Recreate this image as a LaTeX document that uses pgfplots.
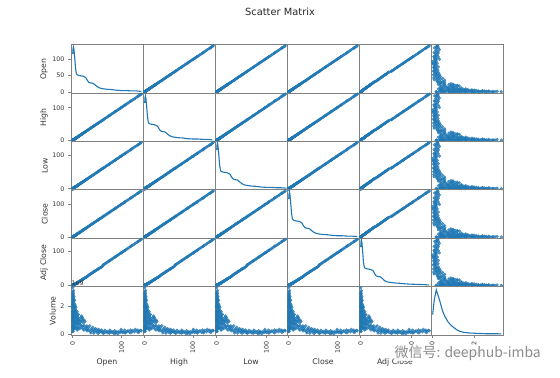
\documentclass[border=0pt]{standalone}
\usepackage{pgfplots}
\pgfplotsset{compat=1.18}
\usepackage{pgfplotstable}
\usepgfplotslibrary{groupplots}
\usepackage{fontspec}
\setmainfont{DejaVu Sans}
\newfontfamily\cjk{Noto Sans CJK SC}
\definecolor{tabblue}{HTML}{1F77B4}
\definecolor{spine}{HTML}{808080}

\pgfplotstableread{
O H L C A V
0.20 0.21 0.19 0.20 0.16 0.9
0.25 0.26 0.24 0.25 0.20 1.6
0.30 0.31 0.29 0.30 0.24 2.1
0.30 0.31 0.29 0.30 0.24 0.5
0.35 0.36 0.34 0.35 0.28 1.2
0.40 0.41 0.39 0.40 0.32 2.6
0.40 0.41 0.39 0.40 0.32 0.3
0.45 0.46 0.44 0.45 0.36 1.8
0.50 0.52 0.48 0.50 0.40 3.3
0.50 0.51 0.49 0.50 0.40 1.0
0.55 0.56 0.54 0.55 0.44 2.3
0.60 0.61 0.59 0.60 0.48 0.6
0.65 0.66 0.64 0.65 0.52 1.5
0.70 0.72 0.68 0.70 0.56 2.8
0.75 0.76 0.74 0.75 0.60 0.4
0.80 0.82 0.78 0.80 0.64 1.9
0.85 0.86 0.84 0.85 0.68 1.1
0.90 0.92 0.88 0.90 0.72 2.4
1.00 1.02 0.98 1.00 0.80 0.8
1.00 1.03 0.97 1.00 0.80 3.0
1.10 1.12 1.08 1.10 0.88 1.4
1.20 1.22 1.18 1.20 0.96 2.0
1.30 1.32 1.28 1.30 1.04 0.5
1.40 1.43 1.37 1.40 1.12 2.6
1.50 1.53 1.47 1.50 1.20 1.7
1.60 1.63 1.57 1.60 1.28 0.9
1.70 1.73 1.67 1.70 1.36 2.2
1.80 1.83 1.77 1.80 1.44 1.3
1.90 1.94 1.86 1.90 1.52 3.1
2.00 2.04 1.96 2.00 1.60 0.7
2.20 2.24 2.16 2.20 1.76 1.9
2.40 2.45 2.35 2.40 1.92 2.5
2.60 2.65 2.55 2.60 2.08 1.0
2.80 2.85 2.75 2.80 2.24 1.6
3.00 3.06 2.94 3.00 2.40 2.2
3.20 3.26 3.14 3.20 2.56 0.6
3.40 3.47 3.33 3.40 2.72 1.4
3.60 3.67 3.53 3.60 2.88 1.9
3.80 3.88 3.72 3.80 3.04 1.1
4.00 4.08 3.92 4.00 3.20 2.4
4.20 4.28 4.12 4.20 3.36 0.8
4.40 4.49 4.31 4.40 3.52 1.5
4.60 4.69 4.51 4.60 3.68 1.2
4.80 4.90 4.70 4.80 3.84 1.8
5.00 5.10 4.90 5.00 4.00 0.9
0.22 0.23 0.21 0.22 0.18 2.9
0.28 0.29 0.27 0.28 0.22 0.2
0.33 0.34 0.32 0.33 0.26 1.4
0.38 0.39 0.37 0.38 0.30 2.0
0.42 0.43 0.41 0.42 0.34 0.8
0.48 0.49 0.47 0.48 0.38 2.7
0.52 0.53 0.51 0.52 0.42 1.3
0.58 0.59 0.57 0.58 0.46 1.9
0.62 0.63 0.61 0.62 0.50 0.2
0.68 0.69 0.67 0.68 0.54 2.2
0.72 0.73 0.71 0.72 0.58 1.1
0.78 0.80 0.76 0.78 0.62 2.5
0.82 0.84 0.80 0.82 0.66 0.6
0.88 0.90 0.86 0.88 0.70 1.6
0.95 0.97 0.93 0.95 0.76 2.0
1.05 1.07 1.03 1.05 0.84 1.2
1.15 1.17 1.13 1.15 0.92 2.3
1.25 1.28 1.22 1.25 1.00 1.6
1.35 1.38 1.32 1.35 1.08 1.0
1.45 1.48 1.42 1.45 1.16 2.9
1.65 1.68 1.62 1.65 1.32 1.9
1.85 1.89 1.81 1.85 1.48 0.4
2.10 2.14 2.06 2.10 1.68 2.4
2.50 2.55 2.45 2.50 2.00 1.3
2.90 2.96 2.84 2.90 2.32 2.7
3.30 3.37 3.23 3.30 2.64 1.7
3.70 3.77 3.63 3.70 2.96 0.4
4.10 4.18 4.02 4.10 3.28 1.6
4.50 4.59 4.41 4.50 3.60 2.1
4.90 5.00 4.80 4.90 3.92 0.5
5.2 5.3 5.1 5.2 4.4 1.6
5.5 5.6 5.4 5.5 4.7 2.0
5.8 5.9 5.7 5.8 4.9 0.8
6.0 6.1 5.9 6.0 5.1 1.3
6.3 6.4 6.2 6.3 5.4 1.9
6.5 6.6 6.4 6.5 5.5 0.7
6.8 6.9 6.7 6.8 5.8 0.4
7.0 7.1 6.9 7.0 6.0 1.7
7.3 7.4 7.2 7.3 6.2 1.2
7.5 7.6 7.4 7.5 6.4 1.0
7.8 8.0 7.6 7.8 6.6 1.5
8.0 8.1 7.9 8.0 6.8 0.5
8.3 8.5 8.1 8.3 7.1 0.8
8.5 8.6 8.4 8.5 7.2 1.4
8.8 9.0 8.6 8.8 7.5 1.1
9.0 9.1 8.9 9.0 7.7 0.9
9.3 9.5 9.1 9.3 7.9 0.3
9.5 9.6 9.4 9.5 8.1 1.6
9.8 10.0 9.6 9.8 8.3 1.3
10.0 10.2 9.8 10.0 8.5 0.6
10.5 10.7 10.3 10.5 8.9 1.2
10.8 11.0 10.6 10.8 9.2 0.8
11.0 11.2 10.8 11.0 9.4 0.4
11.5 11.7 11.3 11.5 9.8 1.0
12.0 12.2 11.8 12.0 10.2 1.4
12.3 12.5 12.1 12.3 10.5 1.0
12.5 12.7 12.3 12.5 10.6 0.7
13.0 13.2 12.8 13.0 11.1 0.5
13.5 13.7 13.3 13.5 11.5 1.1
14.0 14.2 13.8 14.0 11.9 0.8
14.5 14.7 14.3 14.5 12.3 0.4
15.0 15.2 14.8 15.0 12.8 1.0
16 16.3 15.7 16 14.1 0.7
16.5 16.8 16.2 16.5 14.5 0.9
17 17.3 16.7 17 15.0 1.2
17.5 17.8 17.2 17.5 15.4 0.6
18 18.3 17.7 18 15.8 1.3
18.5 18.8 18.2 18.5 16.3 0.5
19 19.3 18.7 19 16.7 0.9
19.5 19.9 19.1 19.5 17.2 1.1
20 20.3 19.7 20 17.6 1.2
20.5 20.8 20.2 20.5 18.0 0.4
21 21.3 20.7 21 18.5 1.0
21.5 21.9 21.1 21.5 18.9 0.6
22 22.4 21.6 22 19.4 0.8
23 23.4 22.6 23 20.2 0.3
23.5 24.0 23.0 23.5 20.7 1.0
24 24.4 23.6 24 21.1 0.6
25 25.4 24.6 25 22.0 0.9
26 26.4 25.6 26 22.9 0.4
27 27.4 26.6 27 23.8 0.5
28 28.5 27.5 28 24.6 0.3
29 29.5 28.5 29 25.5 0.6
30 30.5 29.5 30 26.4 0.4
31 31.5 30.5 31 27.3 0.25
32 32.5 31.5 32 29.4 0.5
33.5 34.0 33.0 33.5 30.8 0.3
35 35.5 34.5 35 32.2 0.6
36.5 37.0 36.0 36.5 33.6 0.2
37 37.7 36.3 37 34.0 0.1
38 38.6 37.4 38 35.0 0.4
39.5 40.1 38.9 39.5 36.3 0.3
41 41.6 40.4 41 37.7 0.5
42.5 43.1 41.9 42.5 39.1 0.2
43 43.9 42.1 43 39.6 0.08
44 44.7 43.3 44 40.5 0.35
45.5 46.2 44.8 45.5 41.9 0.25
47 47.7 46.3 47 43.2 0.4
48.5 49.2 47.8 48.5 44.6 0.15
50 50.8 49.2 50 46.0 0.3
51.5 52.3 50.7 51.5 47.4 0.2
52 53.0 51.0 52 47.8 0.07
53 53.8 52.2 53 48.8 0.35
54.5 55.3 53.7 54.5 50.1 0.15
56 56.8 55.2 56 51.5 0.25
57.5 58.4 56.6 57.5 52.9 0.18
59 59.9 58.1 59 54.3 0.3
60.5 61.4 59.6 60.5 55.7 0.12
62 62.9 61.1 62 59.5 0.2
63 64.3 61.7 63 60.5 0.06
64 65.0 63.0 64 61.4 0.12
66 67.0 65.0 66 63.4 0.28
68 69.0 67.0 68 65.3 0.15
70 71.1 68.9 70 67.2 0.22
72 73.1 70.9 72 69.1 0.1
74 75.1 72.9 74 71.0 0.18
75 76.5 73.5 75 72.0 0.08
76 77.1 74.9 76 73.0 0.3
78 79.2 76.8 78 74.9 0.12
80 81.2 78.8 80 76.8 0.2
82 83.2 80.8 82 78.7 0.15
84 85.3 82.7 84 80.6 0.05
86 87.3 84.7 86 82.6 0.25
87 88.7 85.3 87 83.5 0.07
88 89.3 86.7 88 84.5 0.14
90 91.4 88.6 90 86.4 0.18
92 93.4 90.6 92 88.3 0.03
94 95.4 92.6 94 90.2 0.2
96 97.4 94.6 96 92.2 0.12
98 99.5 96.5 98 94.1 0.16
99 101.0 97.0 99 95.0 0.35
100 101.5 98.5 100 96.0 0.22
102 103.5 100.5 102 97.9 0.12
104 105.6 102.4 104 99.8 0.18
106 107.6 104.4 106 101.8 0.3
107 109.1 104.9 107 102.7 0.09
108 109.6 106.4 108 103.7 0.14
111 112.7 109.3 111 106.6 0.2
113 114.7 111.3 113 108.5 0.25
116 117.7 114.3 116 111.4 0.15
118 119.8 116.2 118 113.3 0.3
119 121.4 116.6 119 114.2 0.1
121 122.8 119.2 121 116.2 0.2
123 124.8 121.2 123 118.1 0.28
126 127.9 124.1 126 121.0 0.18
128 129.9 126.1 128 122.9 0.35
131 133.0 129.0 131 125.8 0.22
133 135.0 131.0 133 127.7 0.3
134 136.7 131.3 134 128.6 0.12
136 138.0 134.0 136 130.6 0.2
138 140.1 135.9 138 132.5 0.28
140 142.1 137.9 140 134.4 0.25
}\stock

\pgfplotstableread{
x y
0.2 115
1.0 133
1.8 137
3.0 125
4.5 100
6.0 72
7.5 57
9.0 52
12 50
16 49
20 48
24 46
27 43
30 35
33 29
37 27
42 26
46 21
50 16
55 12
60 10
65 9
70 8
80 7
90 5
100 4
110 4
120 3
130 3
140 1.5
}\kdeP

\pgfplotstableread{
x y
0.16 112
0.9 130
1.6 134
2.7 122
4.0 98
5.4 70
6.8 56
8.2 51
11 49
15 48
18.5 47
22 45
25 42
27.5 34
30.5 28
34 26
39 25
43 20
46 15
51 11
56 9.5
61 8.5
66 7.5
76 6.5
86 5
96 4
105 3.5
115 3
125 2.5
134 1.5
}\kdeA

\pgfplotstableread{
x y
0.03 1.4
0.1 2.4
0.2 3.15
0.3 2.7
0.4 2.2
0.5 1.65
0.6 1.3
0.75 0.9
0.9 0.65
1.0 0.52
1.15 0.35
1.3 0.22
1.5 0.14
1.8 0.09
2.2 0.06
2.6 0.04
3.0 0.04
3.3 0.03
}\kdeV

\pgfplotsset{
  cell/.style={scale only axis, width=72bp, height=48.4bp,
    axis line style={spine, line width=0.8bp},
    xtick=\empty, ytick=\empty, tick align=outside,
    major tick length=3bp, tick style={spine, line width=0.8bp},
    xtick pos=bottom, ytick pos=left,
    ticklabel style={font=\fontsize{6.3}{7}\selectfont, text=black!80},
    label style={font=\fontsize{7.8}{9}\selectfont, text=black!80},
    /pgf/number format/assume math mode=true,
    xlabel style={yshift=2bp}, ylabel style={yshift=-2bp}},
  xO/.style={xmin=-3.3,xmax=143.5}, yO/.style={ymin=-3.3,ymax=143.5},
  xH/.style={xmin=-3.3,xmax=145.6}, yH/.style={ymin=-3.3,ymax=145.6},
  xL/.style={xmin=-3.2,xmax=141.3}, yL/.style={ymin=-3.2,ymax=141.3},
  xC/.style={xmin=-3.3,xmax=143.5}, yC/.style={ymin=-3.3,ymax=143.5},
  xA/.style={xmin=-3.2,xmax=137.8}, yA/.style={ymin=-3.2,ymax=137.8},
  xV/.style={xmin=-0.05,xmax=3.38}, yV/.style={ymin=-0.05,ymax=3.38},
  sc/.style={only marks, mark=*, mark size=1.6pt, color=tabblue,
    mark options={fill=tabblue, draw=tabblue, line width=0.05pt, opacity=0.8}},
  kd/.style={tabblue, line width=1.1bp, no marks},
  mleft/.style={ytick={0,100}, ylabel={#1}},
  mbot/.style={xtick={0,100}, xlabel={#1},
    xticklabel style={rotate=90, anchor=east}},
}

\begin{document}
\begin{tikzpicture}
\begin{groupplot}[group style={group size=6 by 6, horizontal sep=0pt, vertical sep=0pt}, cell]
% Row 1: Open
\nextgroupplot[xO,yO,ytick={0,50,100},ylabel={Open}]
\addplot[kd] table {\kdeP};
\nextgroupplot[xH,yO] \addplot[sc] table[x=H,y=O]{\stock};
\nextgroupplot[xL,yO] \addplot[sc] table[x=L,y=O]{\stock};
\nextgroupplot[xC,yO] \addplot[sc] table[x=C,y=O]{\stock};
\nextgroupplot[xA,yO] \addplot[sc] table[x=A,y=O]{\stock};
\nextgroupplot[xV,yO] \addplot[sc] table[x=V,y=O]{\stock};
% Row 2: High
\nextgroupplot[xO,yH,mleft={High}] \addplot[sc] table[x=O,y=H]{\stock};
\nextgroupplot[xH,yH] \addplot[kd] table {\kdeP};
\nextgroupplot[xL,yH] \addplot[sc] table[x=L,y=H]{\stock};
\nextgroupplot[xC,yH] \addplot[sc] table[x=C,y=H]{\stock};
\nextgroupplot[xA,yH] \addplot[sc] table[x=A,y=H]{\stock};
\nextgroupplot[xV,yH] \addplot[sc] table[x=V,y=H]{\stock};
% Row 3: Low
\nextgroupplot[xO,yL,mleft={Low}] \addplot[sc] table[x=O,y=L]{\stock};
\nextgroupplot[xH,yL] \addplot[sc] table[x=H,y=L]{\stock};
\nextgroupplot[xL,yL] \addplot[kd] table {\kdeP};
\nextgroupplot[xC,yL] \addplot[sc] table[x=C,y=L]{\stock};
\nextgroupplot[xA,yL] \addplot[sc] table[x=A,y=L]{\stock};
\nextgroupplot[xV,yL] \addplot[sc] table[x=V,y=L]{\stock};
% Row 4: Close
\nextgroupplot[xO,yC,mleft={Close}] \addplot[sc] table[x=O,y=C]{\stock};
\nextgroupplot[xH,yC] \addplot[sc] table[x=H,y=C]{\stock};
\nextgroupplot[xL,yC] \addplot[sc] table[x=L,y=C]{\stock};
\nextgroupplot[xC,yC] \addplot[kd] table {\kdeP};
\nextgroupplot[xA,yC] \addplot[sc] table[x=A,y=C]{\stock};
\nextgroupplot[xV,yC] \addplot[sc] table[x=V,y=C]{\stock};
% Row 5: Adj Close
\nextgroupplot[xO,yA,mleft={Adj Close}] \addplot[sc] table[x=O,y=A]{\stock};
\nextgroupplot[xH,yA] \addplot[sc] table[x=H,y=A]{\stock};
\nextgroupplot[xL,yA] \addplot[sc] table[x=L,y=A]{\stock};
\nextgroupplot[xC,yA] \addplot[sc] table[x=C,y=A]{\stock};
\nextgroupplot[xA,yA] \addplot[kd] table {\kdeA};
\nextgroupplot[xV,yA] \addplot[sc] table[x=V,y=A]{\stock};
% Row 6: Volume
\nextgroupplot[xO,yV,ytick={0,2},ylabel={Volume},mbot={Open}] \addplot[sc] table[x=O,y=V]{\stock};
\nextgroupplot[xH,yV,mbot={High}] \addplot[sc] table[x=H,y=V]{\stock};
\nextgroupplot[xL,yV,mbot={Low}] \addplot[sc] table[x=L,y=V]{\stock};
\nextgroupplot[xC,yV,mbot={Close}] \addplot[sc] table[x=C,y=V]{\stock};
\nextgroupplot[xA,yV,mbot={Adj Close}] \addplot[sc] table[x=A,y=V]{\stock};
\nextgroupplot[xV,yV,mbot={Volume},xtick={0,2}] \addplot[kd] table {\kdeV};
\end{groupplot}
\path (group c1r1.north west) ++(-71bp,-333.4bp) rectangle ++(560bp,378bp);
\node[font=\fontsize{9.9}{11}\selectfont, text=black!85] at ($(group c1r1.north west)+(209bp,32.6bp)$) {Scatter Matrix};
\node[font=\fontsize{6.3}{7}\selectfont, text=black!80, anchor=south west, inner sep=0.5bp] at (group c1r6.north west) {1e9};
\node[font=\cjk\fontsize{14}{16}\selectfont, text=black!45, fill=white, fill opacity=0.85, text opacity=1, anchor=west, inner sep=0.5bp] at ($(group c1r1.north west)+(323bp,-308.4bp)$) {微信号: deephub-imba};
\end{tikzpicture}
\end{document}
